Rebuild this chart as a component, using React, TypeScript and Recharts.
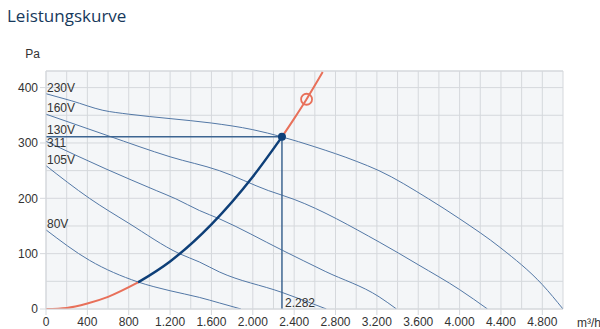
import {
  LineChart,
  Line,
  XAxis,
  YAxis,
  CartesianGrid,
  ReferenceLine,
  ReferenceDot,
} from "recharts";

// fan curves (flow m³/h, pressure Pa)
const q230 = [0, 250, 550, 800, 1200, 1600, 2000, 2282, 2600, 3000, 3220, 3700, 4000, 4400, 4800, 5000];
const p230 = [389, 376, 359, 352, 344, 336, 324, 311, 293, 267, 250, 199, 163, 110, 44, 0];
const q160 = [0, 600, 1200, 1676, 2150, 2400, 3222, 3600, 4000, 4270];
const p160 = [352, 313, 275, 250, 214, 198, 121, 80, 35, 0];
const q130 = [0, 580, 1066, 1256, 1483, 1676, 2287, 2700, 3222, 3390];
const p130 = [303, 253, 214, 199, 178, 163, 106, 68, 22, 0];
const q105 = [0, 420, 800, 1290, 1483, 1676, 2282, 2712];
const p105 = [259, 200, 155, 100, 85, 67, 30, 0];
const q80 = [0, 420, 887, 1200, 1483, 1676, 1886];
const p80 = [143, 88, 49, 33, 21, 11, 0];

// system curve, split at min fan curve and duty point
const qSysLow = [0, 200, 400, 600, 890];
const pSysLow = [0, 2, 10, 22, 48];
const qSysMid = [890, 1200, 1600, 2000, 2282];
const pSysMid = [48, 86, 153, 239, 311];
const qSysHigh = [2282, 2400, 2520, 2676];
const pSysHigh = [311, 344, 379, 428];

const dutyQ = 2282;
const dutyP = 311;
const markQ = 2520;
const markP = 379;

const xTicks = Array.from({ length: 26 }, (_, i) => i * 200);
const yTicks = [0, 50, 100, 150, 200, 250, 300, 350, 400];

const zip = (qs: number[], ps: number[]) => qs.map((q, i) => ({ q, p: ps[i] }));

const fans = [
  { name: "230V", data: zip(q230, p230), dy: -2 },
  { name: "160V", data: zip(q160, p160), dy: -2 },
  { name: "130V", data: zip(q130, p130), dy: -7 },
  { name: "105V", data: zip(q105, p105), dy: -2 },
  { name: "80V", data: zip(q80, p80), dy: -2 },
];

const FONT = "'Liberation Sans', Arial, sans-serif";
const GRID = "#d5d8dc";
const FAN = "#5378a6";
const NAVY = "#0e3f78";
const ORANGE = "#e8705a";

const dotted = (v: number) => String(v).replace(/\B(?=(\d{3})+(?!\d))/g, ".");

const XTick = ({ x, y, payload }: any) => {
  if (payload.value % 400 !== 0) return null;
  return (
    <g>
      <line x1={x} x2={x} y1={y - 8} y2={y - 2} stroke={GRID} />
      <text x={x} y={y} dy="0.71em" textAnchor="middle" fill="#333" fontSize={12} fontFamily={FONT}>
        {dotted(payload.value)}
      </text>
    </g>
  );
};

const YTick = ({ x, y, payload }: any) => {
  if (payload.value % 100 !== 0) return null;
  return (
    <g>
      <line x1={x + 2} x2={x + 8} y1={y} y2={y} stroke={GRID} />
      <text x={x} y={y} dy="0.355em" textAnchor="end" fill="#333" fontSize={12} fontFamily={FONT}>
        {payload.value}
      </text>
    </g>
  );
};

const curveLabel = (name: string, dy: number) => (props: any) => {
  if (props.index !== 0) return null;
  return (
    <text x={props.x + 1} y={props.y + dy} fill="#333" fontSize={12} fontFamily={FONT}>
      {name}
    </text>
  );
};

export default function App() {
  return (
    <div style={{ position: "absolute", left: 0, top: 0, width: 600, height: 329, background: "#fff", overflow: "hidden" }}>
      <div
        style={{
          position: "absolute",
          left: 7,
          top: 7,
          fontSize: 17,
          lineHeight: "17px",
          color: "#17395c",
          fontFamily: "'Open Sans', sans-serif",
        }}
      >
        Leistungskurve
      </div>
      <div style={{ position: "absolute", right: 560, top: 47, fontSize: 12, color: "#333", fontFamily: FONT }}>Pa</div>
      <div style={{ position: "absolute", left: 577, top: 316, fontSize: 12, color: "#333", fontFamily: FONT, whiteSpace: "nowrap" }}>
        m³/h
      </div>
      <LineChart width={600} height={329} margin={{ top: 71, right: 37, left: 0, bottom: 0 }}>
        <CartesianGrid fill="#f4f6f8" stroke={GRID} />
        <XAxis
          type="number"
          dataKey="q"
          domain={[0, 5000]}
          ticks={xTicks}
          interval={0}
          height={20}
          tickLine={false}
          tickSize={6}
          tickMargin={2}
          stroke={GRID}
          tick={<XTick />}
          allowDataOverflow
        />
        <YAxis
          type="number"
          dataKey="p"
          domain={[0, 430]}
          ticks={yTicks}
          interval={0}
          width={46}
          tickLine={false}
          tickSize={6}
          tickMargin={2}
          stroke={GRID}
          tick={<YTick />}
          allowDataOverflow
        />
        <ReferenceLine y={430} stroke={GRID} />
        {fans.map((f) => (
          <Line
            key={f.name}
            data={f.data}
            dataKey="p"
            type="monotone"
            stroke={FAN}
            strokeWidth={1}
            dot={false}
            activeDot={false}
            isAnimationActive={false}
            label={curveLabel(f.name, f.dy)}
          />
        ))}
        <ReferenceLine
          segment={[{ x: 0, y: dutyP }, { x: dutyQ, y: dutyP }]}
          stroke="#3d6591"
          strokeWidth={1.5}
          label={{
            content: (props: any) => (
              <text x={props.viewBox.x + 1} y={props.viewBox.y + 10} fill="#333" fontSize={12} fontFamily={FONT}>
                {dotted(dutyP)}
              </text>
            ),
          }}
        />
        <ReferenceLine
          segment={[{ x: dutyQ, y: 0 }, { x: dutyQ, y: dutyP }]}
          stroke="#3d6591"
          strokeWidth={1.5}
          label={{
            content: (props: any) => (
              <text
                x={props.viewBox.x + 3}
                y={props.viewBox.y + props.viewBox.height - 2}
                fill="#333"
                fontSize={12}
                fontFamily={FONT}
              >
                {dotted(dutyQ)}
              </text>
            ),
          }}
        />
        <Line data={zip(qSysLow, pSysLow)} dataKey="p" type="monotone" stroke={ORANGE} strokeWidth={2} dot={false} activeDot={false} isAnimationActive={false} />
        <Line data={zip(qSysHigh, pSysHigh)} dataKey="p" type="monotone" stroke={ORANGE} strokeWidth={2} dot={false} activeDot={false} isAnimationActive={false} />
        <Line data={zip(qSysMid, pSysMid)} dataKey="p" type="monotone" stroke={NAVY} strokeWidth={2.5} dot={false} activeDot={false} isAnimationActive={false} />
        <ReferenceDot x={markQ} y={markP} r={5.5} fill="none" stroke={ORANGE} strokeWidth={1.8} />
        <ReferenceDot x={dutyQ} y={dutyP} r={4} fill={NAVY} stroke="none" />
      </LineChart>
    </div>
  );
}
